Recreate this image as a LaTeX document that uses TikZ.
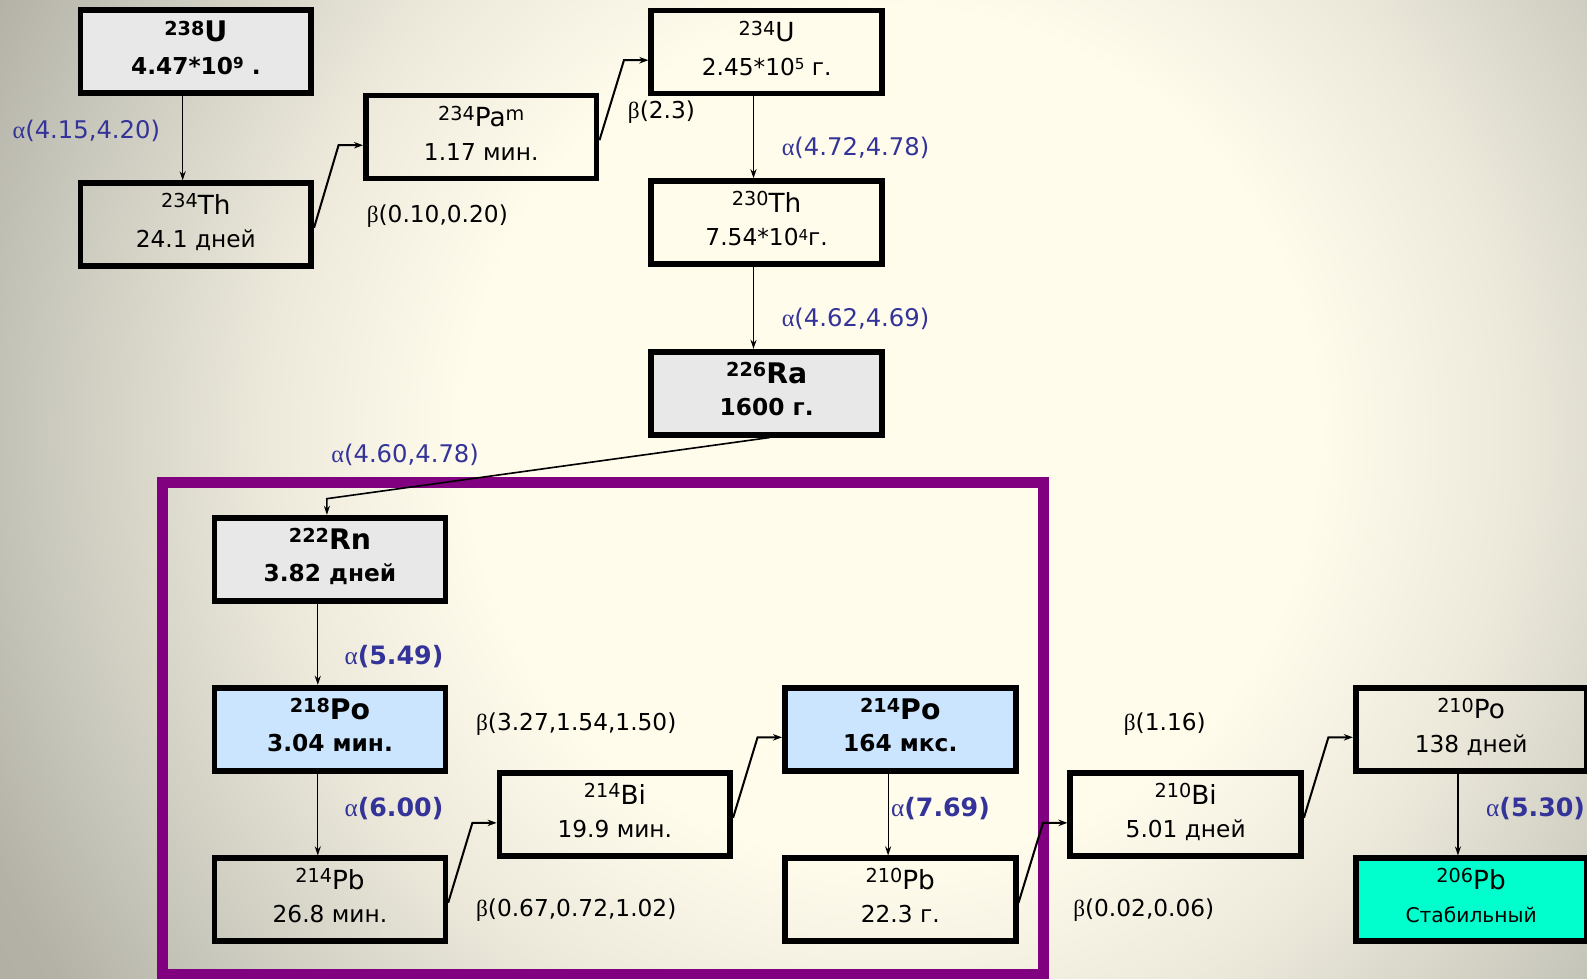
\documentclass[tikz,border=0pt]{standalone}
\usepackage{fontspec}
\setmainfont{DejaVu Sans}
\newfontfamily\grk{Liberation Serif}
\usetikzlibrary{arrows.meta,calc}

\definecolor{cream}{RGB}{255,252,236}
\definecolor{bgA}{RGB}{236,233,219}
\definecolor{bgB}{RGB}{200,199,187}
\definecolor{bgC}{RGB}{180,178,166}
\definecolor{bgD}{RGB}{170,168,156}
\definecolor{boxgray}{RGB}{232,232,232}
\definecolor{boxblue}{RGB}{204,229,255}
\definecolor{aqua}{RGB}{0,255,204}
\definecolor{framepurple}{RGB}{128,0,128}
\definecolor{lblue}{RGB}{51,51,153}

% the inner 25bp radius is mapped onto the shaded circle
\pgfdeclareradialshading{bgshade}{\pgfpoint{0bp}{0bp}}{color(0bp)=(cream); color(8.75bp)=(cream); color(12.9bp)=(bgA); color(17.7bp)=(bgB); color(20.4bp)=(bgC); color(25bp)=(bgD); color(50bp)=(bgD)}

\newcommand\isot[1]{\raisebox{3.2pt}{\fontsize{9.5}{9.5}\selectfont #1}}
\newcommand\pw[1]{\raisebox{2.6pt}{\fontsize{7.5}{7.5}\selectfont #1}}
\newcommand\al{{\grk α}}
\newcommand\be{{\grk β}}
\newcommand\bentlink[2]{%
  \coordinate (bs) at ($(#1.east)+(0,3)$);
  \coordinate (bt) at ($(#2.west)+(0,8)$);
  \coordinate (bm) at ($(bs)!0.5!(bt)$);
  \draw[bconn] (bs) -- (bm |- bt) -- (bt);}

\begin{document}
\begin{tikzpicture}[x=0.5pt,y=-0.5pt,
  nuc/.style={draw=black, line width=2.8pt, minimum width=114pt, minimum height=41pt,
    inner sep=0pt, align=center, font=\fontsize{11.5}{16.5}\selectfont,
    execute at end node={\rule[-4pt]{0pt}{0pt}}},
  bnuc/.style={nuc, font=\bfseries\fontsize{11.5}{16}\selectfont},
  lbl/.style={anchor=west, inner sep=0pt, font=\fontsize{11.5}{14}\selectfont},
  alab/.style={lbl, text=lblue, font=\fontsize{12}{14}\selectfont},
  balab/.style={lbl, text=lblue, font=\fontsize{12.5}{14}\selectfont},
  conn/.style={line width=0.6pt, -{Stealth[length=4.5pt,width=3pt]}},
  bconn/.style={line width=1pt, -{Stealth[length=4.5pt,width=3.2pt]}}]

\useasboundingbox (0,0) rectangle (1568,967);
\begin{scope}
  \clip (0,0) rectangle (1568,967);
  \fill[bgD] (0,0) rectangle (1568,967);
  \shade[shading=bgshade] (880,430) circle (600pt);
\end{scope}

% purple frame
\draw[framepurple, line width=5.5pt] (160.5,476.5) rectangle (1031,963);

% nodes
\node[bnuc, fill=boxgray] (U238) at (193.5,51) {{\fontsize{14}{14}\selectfont\isot{238}U}\\4.47*10\pw{9} .};
\node[nuc] (Th234) at (193.5,222) {{\fontsize{13}{13}\selectfont\isot{234}Th}\\24.1 дней};
\node[nuc] (Pa234) at (475.5,135.5) {{\fontsize{13}{13}\selectfont\isot{234}Pa\isot{m}}\\1.17 мин.};
\node[nuc] (U234) at (757.5,51.5) {{\fontsize{13}{13}\selectfont\isot{234}U}\\2.45*10\pw{5} г.};
\node[nuc] (Th230) at (757.5,220) {{\fontsize{13}{13}\selectfont\isot{230}Th}\\7.54*10\pw{4}г.};
\node[bnuc, fill=boxgray] (Ra226) at (757.5,388.5) {{\fontsize{14}{14}\selectfont\isot{226}Ra}\\1600 г.};
\node[bnuc, fill=boxgray] (Rn222) at (326,552.5) {{\fontsize{14}{14}\selectfont\isot{222}Rn}\\3.82 дней};
\node[bnuc, fill=boxblue] (Po218) at (326,720.5) {{\fontsize{14}{14}\selectfont\isot{218}Po}\\3.04 мин.};
\node[nuc] (Pb214) at (326,889) {{\fontsize{13}{13}\selectfont\isot{214}Pb}\\26.8 мин.};
\node[nuc] (Bi214) at (607.5,805) {{\fontsize{13}{13}\selectfont\isot{214}Bi}\\19.9 мин.};
\node[bnuc, fill=boxblue] (Po214) at (889.5,720.5) {{\fontsize{14}{14}\selectfont\isot{214}Po}\\164 мкс.};
\node[nuc] (Pb210) at (889.5,889) {{\fontsize{13}{13}\selectfont\isot{210}Pb}\\22.3 г.};
\node[nuc] (Bi210) at (1171.5,805) {{\fontsize{13}{13}\selectfont\isot{210}Bi}\\5.01 дней};
\node[nuc] (Po210) at (1453.5,720.5) {{\fontsize{13}{13}\selectfont\isot{210}Po}\\138 дней};
\node[nuc, fill=aqua] (Pb206) at (1453.5,889) {{\fontsize{13}{13}\selectfont\isot{206}Pb}\\{\fontsize{10}{10}\selectfont Стабильный}};

% vertical alpha connectors
\draw[conn] ($(U238.south)+(-13,0)$) -- ($(Th234.north)+(-13,0)$);
\draw[conn] ($(U234.south)+(-13,0)$) -- ($(Th230.north)+(-13,0)$);
\draw[conn] ($(Th230.south)+(-13,0)$) -- ($(Ra226.north)+(-13,0)$);
\draw[conn] ($(Rn222.south)+(-12,0)$) -- ($(Po218.north)+(-12,0)$);
\draw[conn] ($(Po218.south)+(-12,0)$) -- ($(Pb214.north)+(-12,0)$);
\draw[conn] ($(Po214.south)+(-12,0)$) -- ($(Pb210.north)+(-12,0)$);
\draw[conn] ($(Po210.south)+(-13,0)$) -- ($(Pb206.north)+(-13,0)$);

% Ra -> Rn
\coordinate (rk) at ($(Rn222.north)+(-3,-16)$);
\draw[line width=0.8pt, -{Stealth[length=4.5pt,width=3pt]}] ($(Ra226.south)+(3,0)$) -- (rk) -- ($(Rn222.north)+(-3,0)$);

% beta connectors
\bentlink{Th234}{Pa234}
\bentlink{Pa234}{U234}
\bentlink{Pb214}{Bi214}
\bentlink{Bi214}{Po214}
\bentlink{Pb210}{Bi210}
\bentlink{Bi210}{Po210}

% labels
\node[alab] (l1) at (12,129) {\al(4.15,4.20)};
\node[lbl] (l2) at (362,214) {\be(0.10,0.20)};
\node[lbl] (l3) at (620,111) {\be(2.3)};
\node[alab] (l4) at (772,146) {\al(4.72,4.78)};
\node[alab] (l5) at (772,315) {\al(4.62,4.69)};
\node[alab] (l6) at (327,449) {\al(4.60,4.78)};
\node[balab] (l7) at (340,649) {\al\textbf{(5.49)}};
\node[lbl] (l8) at (470,715) {\be(3.27,1.54,1.50)};
\node[balab] (l9) at (340,799) {\al\textbf{(6.00)}};
\node[lbl] (l10) at (470,899) {\be(0.67,0.72,1.02)};
\node[balab] (l11) at (880,799) {\al\textbf{(7.69)}};
\node[lbl] (l12) at (1110,715) {\be(1.16)};
\node[lbl] (l13) at (1060,899) {\be(0.02,0.06)};
\node[balab] (l14) at (1468,799) {\al\textbf{(5.30)}};
\end{tikzpicture}
\end{document}
